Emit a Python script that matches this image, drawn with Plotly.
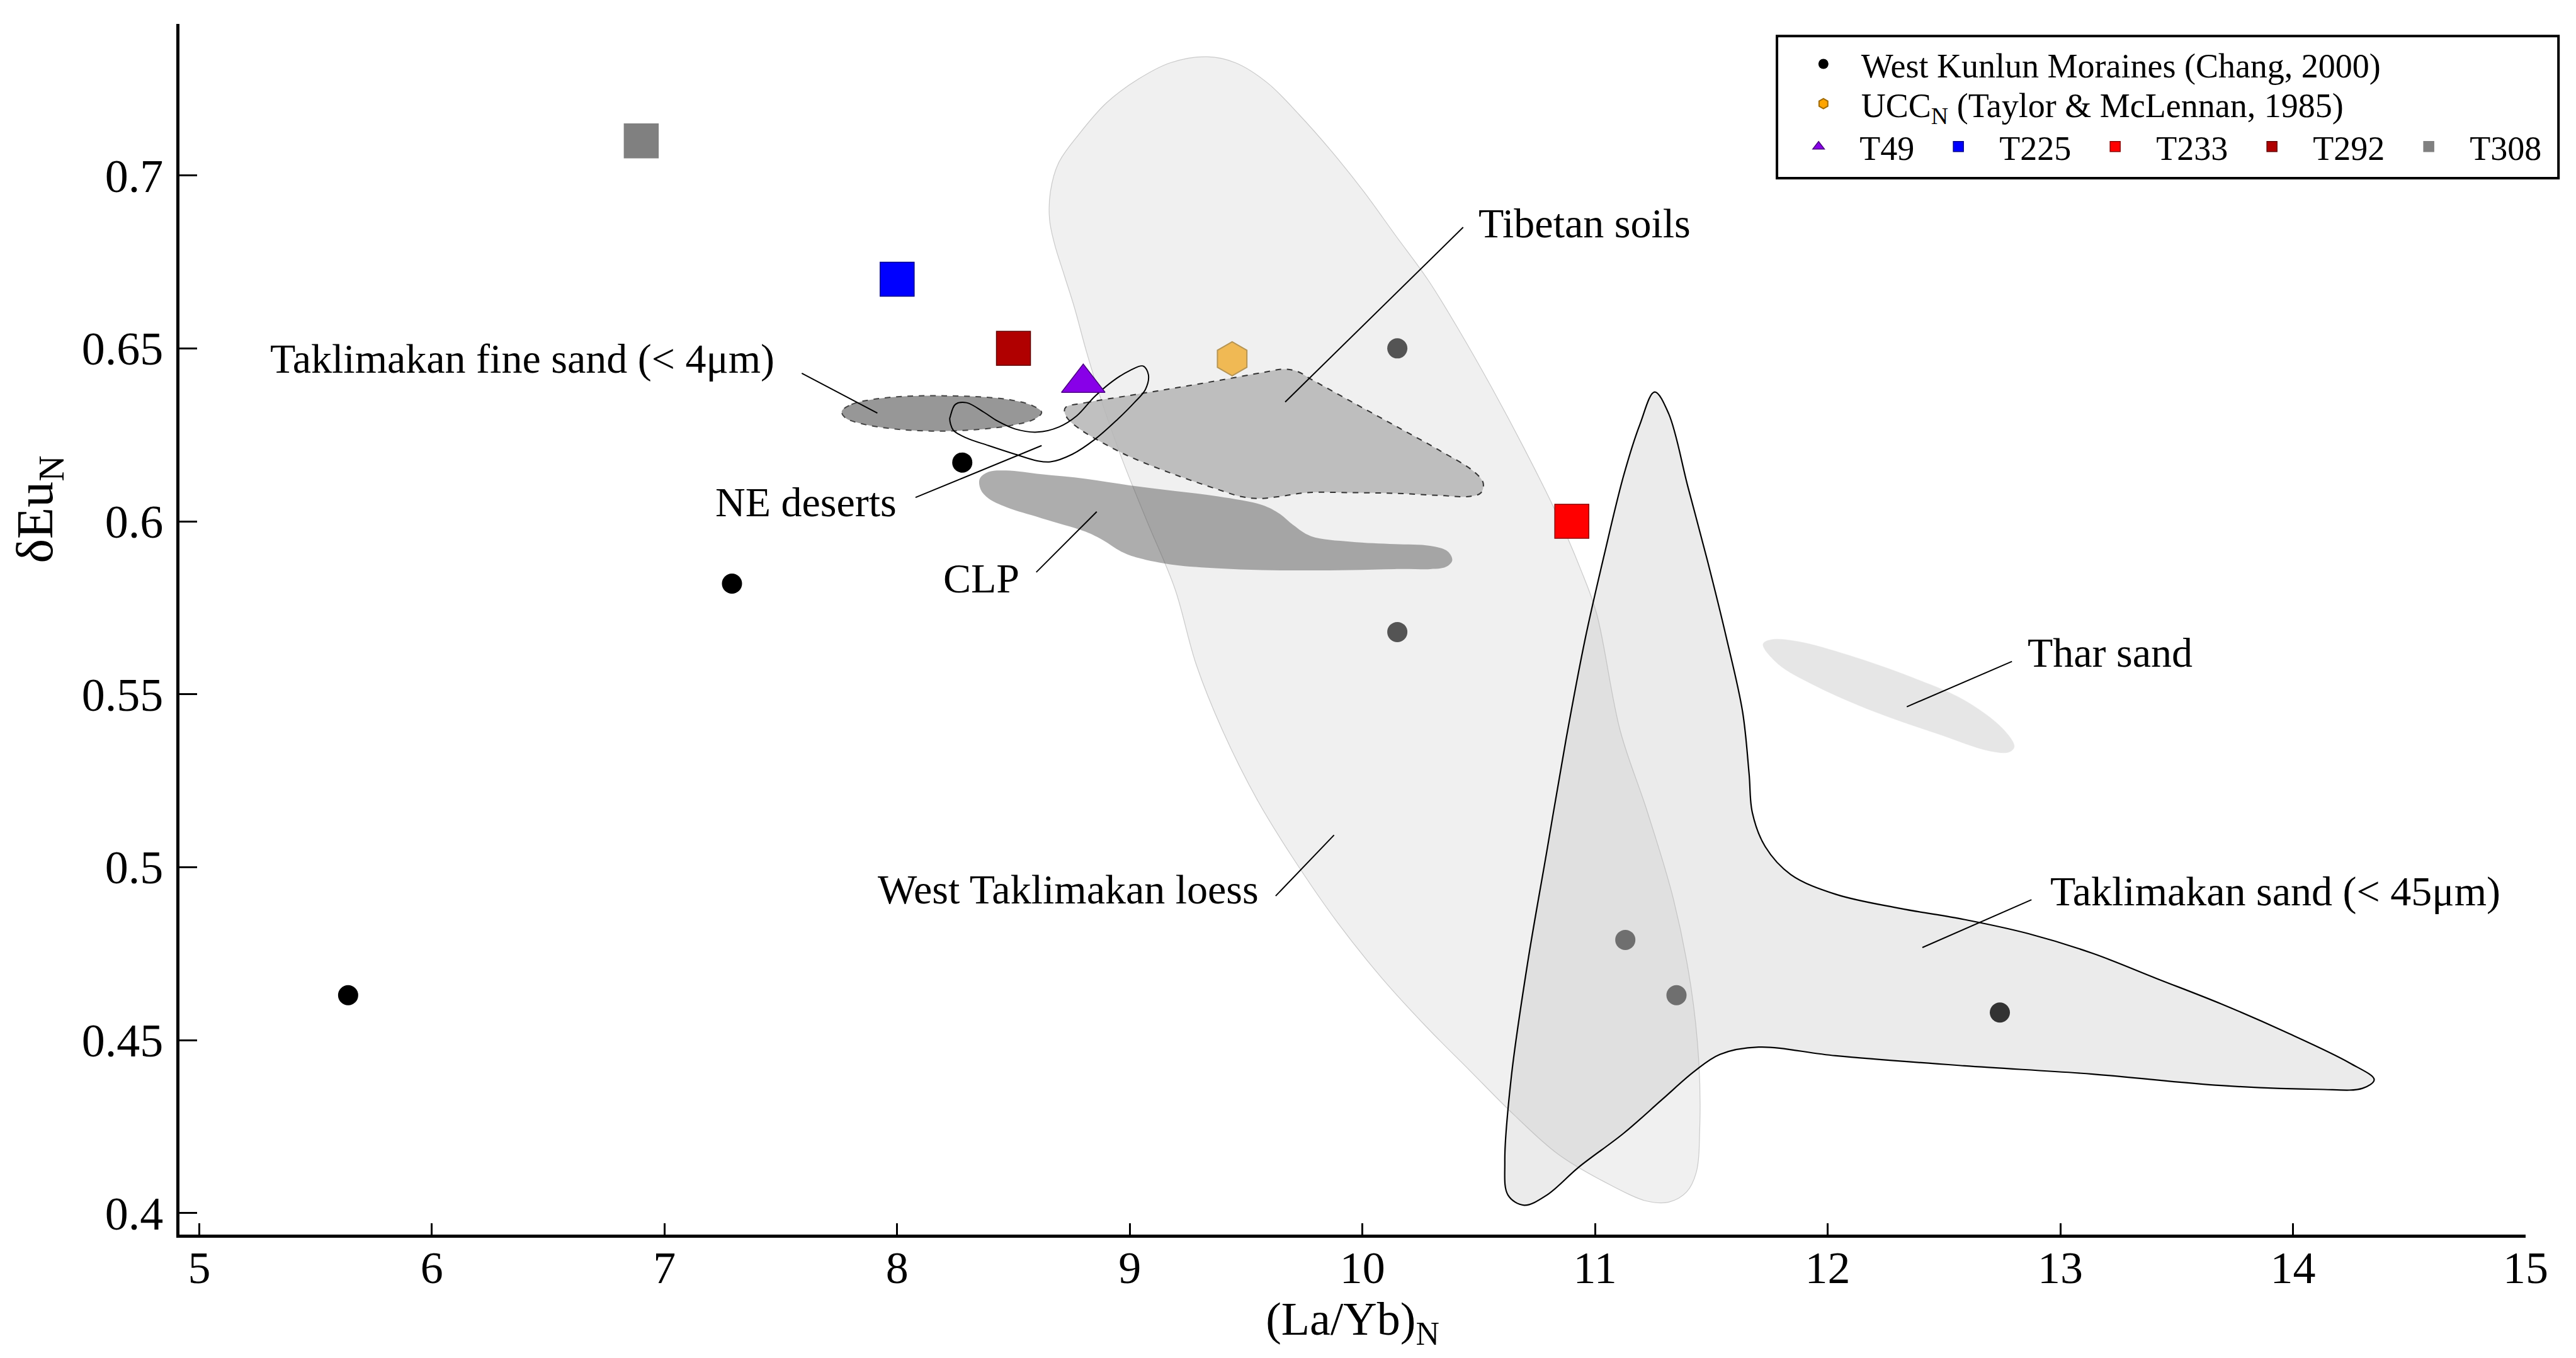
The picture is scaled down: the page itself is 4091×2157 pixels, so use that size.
import plotly.graph_objects as go

FONT = "Liberation Serif"

# ---------------- data ----------------
# West Kunlun Moraines (Chang, 2000)
wkm_x = [5.64, 7.29, 8.28, 10.15, 10.15, 11.13, 11.35, 12.74]
wkm_y = [0.463, 0.582, 0.617, 0.650, 0.568, 0.479, 0.463, 0.458]

# UCC_N (Taylor & McLennan, 1985)
ucc_x = [9.44]
ucc_y = [0.647]

# samples
sample_names = ["T49", "T225", "T233", "T292", "T308"]
sample_x = [8.80, 8.00, 10.90, 8.50, 6.90]
sample_y = [0.640, 0.670, 0.600, 0.650, 0.710]

# region outlines (data units)
loess_x = [9.332, 9.453, 9.591, 9.729, 9.867, 10.005, 10.143, 10.281, 10.419, 10.557,
           10.695, 10.833, 10.937, 11.006, 11.108, 11.222, 11.336, 11.412, 11.446, 11.450,
           11.435, 11.393, 11.317, 11.222, 11.070, 10.842, 10.652, 10.462, 10.273, 10.083,
           9.893, 9.703, 9.551, 9.399, 9.285, 9.194, 9.073, 8.969, 8.883, 8.814,
           8.762, 8.719, 8.676, 8.655, 8.659, 8.693, 8.779, 8.900, 9.038, 9.176, 9.332]
loess_y = [0.7343, 0.7326, 0.7268, 0.7175, 0.7070, 0.6954, 0.6826, 0.6699, 0.6548, 0.6385,
           0.6211, 0.6025, 0.5863, 0.5735, 0.5395, 0.5166, 0.4910, 0.4655, 0.4438, 0.4246,
           0.4118, 0.4061, 0.4032, 0.4035, 0.4080, 0.4170, 0.4284, 0.4412, 0.4540, 0.4680,
           0.4840, 0.5025, 0.5191, 0.5395, 0.5587, 0.5805, 0.6002, 0.6176, 0.6339, 0.6490,
           0.6618, 0.6710, 0.6803, 0.6873, 0.6954, 0.7035, 0.7117, 0.7210, 0.7279, 0.7326, 0.7343]

tsand_x = [11.256, 11.316, 11.399, 11.482, 11.565, 11.634, 11.662, 11.676, 11.731, 11.841,
           12.034, 12.311, 12.587, 12.863, 13.139, 13.415, 13.691, 13.967, 14.244, 14.349,
           14.299, 14.106, 13.691, 13.139, 12.587, 12.034, 11.703, 11.537, 11.427, 11.289,
           11.123, 10.930, 10.792, 10.695, 10.626, 10.612, 10.640, 10.709, 10.792, 10.875,
           10.958, 11.040, 11.123, 11.192, 11.256]
tsand_y = [0.6374, 0.6312, 0.6100, 0.5889, 0.5662, 0.5450, 0.5271, 0.5158, 0.5060, 0.4979,
           0.4922, 0.4881, 0.4849, 0.4808, 0.4751, 0.4678, 0.4605, 0.4524, 0.4434, 0.4386,
           0.4361, 0.4358, 0.4369, 0.4402, 0.4426, 0.4455, 0.4480, 0.4459, 0.4410, 0.4329,
           0.4231, 0.4133, 0.4052, 0.4023, 0.4052, 0.4150, 0.4394, 0.4719, 0.5044, 0.5369,
           0.5662, 0.5905, 0.6133, 0.6279, 0.6374]

thar_x = [11.722, 11.758, 11.869, 12.090, 12.366, 12.587, 12.752, 12.802, 12.780, 12.697,
          12.476, 12.200, 11.952, 11.786, 11.722]
thar_y = [0.5645, 0.5658, 0.5653, 0.5613, 0.5548, 0.5483, 0.5401, 0.5349, 0.5333, 0.5336,
          0.5385, 0.5450, 0.5523, 0.5588, 0.5645]

clp_x = [8.355, 8.393, 8.469, 8.621, 8.810, 9.000, 9.190, 9.380, 9.570, 9.646,
         9.703, 9.779, 9.950, 10.139, 10.291, 10.367, 10.386, 10.358, 10.291, 10.139,
         9.950, 9.760, 9.570, 9.380, 9.190, 9.038, 8.962, 8.886, 8.810, 8.621,
         8.469, 8.393, 8.359, 8.355]
clp_y = [0.6123, 0.6143, 0.6147, 0.6136, 0.6123, 0.6104, 0.6088, 0.6072, 0.6047, 0.6021,
         0.5989, 0.5957, 0.5941, 0.5934, 0.5929, 0.5913, 0.5887, 0.5868, 0.5862, 0.5862,
         0.5859, 0.5858, 0.5859, 0.5864, 0.5874, 0.5894, 0.5913, 0.5945, 0.5970, 0.6009,
         0.6041, 0.6066, 0.6092, 0.6123]

tibet_x = [8.725, 8.810, 9.000, 9.190, 9.380, 9.570, 9.665, 9.722, 9.779, 9.950,
           10.139, 10.329, 10.481, 10.519, 10.510, 10.462, 10.329, 10.139, 9.950, 9.760,
           9.646, 9.551, 9.475, 9.380, 9.190, 9.000, 8.886, 8.791, 8.734, 8.719, 8.725]
tibet_y = [0.6330, 0.6343, 0.6364, 0.6385, 0.6407, 0.6430, 0.6440, 0.6433, 0.6411, 0.6347,
           0.6277, 0.6206, 0.6143, 0.6111, 0.6083, 0.6072, 0.6075, 0.6081, 0.6083, 0.6083,
           0.6072, 0.6066, 0.6072, 0.6092, 0.6136, 0.6187, 0.6226, 0.6264, 0.6296, 0.6318, 0.6330]

fine_x = [7.762, 7.804, 7.899, 8.051, 8.203, 8.355, 8.488, 8.583, 8.621, 8.592,
          8.488, 8.317, 8.146, 7.975, 7.842, 7.776, 7.762]
fine_y = [0.6318, 0.6338, 0.6353, 0.6362, 0.6363, 0.6360, 0.6351, 0.6334, 0.6315, 0.6296,
          0.6277, 0.6264, 0.6261, 0.6268, 0.6283, 0.6300, 0.6318]

ne_x = [8.228, 8.250, 8.298, 8.374, 8.431, 8.507, 8.602, 8.696, 8.772, 8.848,
        8.924, 9.000, 9.057, 9.080, 9.067, 9.019, 8.943, 8.848, 8.753, 8.659,
        8.602, 8.507, 8.393, 8.298, 8.241, 8.226, 8.228]
ne_y = [0.6302, 0.6338, 0.6343, 0.6315, 0.6290, 0.6267, 0.6258, 0.6273, 0.6305, 0.6360,
        0.6404, 0.6436, 0.6449, 0.6424, 0.6381, 0.6343, 0.6292, 0.6236, 0.6194, 0.6172,
        0.6175, 0.6194, 0.6219, 0.6241, 0.6264, 0.6296, 0.6302]

# region labels: text, x, y, anchor
label_text = ["Taklimakan fine sand (< 4μm)", "NE deserts", "CLP", "Tibetan soils",
              "West Taklimakan loess", "Thar sand", "Taklimakan sand (< 45μm)"]
label_x = [7.478, 8.004, 8.53, 10.493, 9.56, 12.853, 12.951]
label_y = [0.647, 0.6055, 0.5836, 0.6862, 0.4936, 0.5621, 0.493]
label_anchor = ["right", "right", "right", "left", "right", "left", "left"]

# leader lines: x0, y0, x1, y1
leader_x0 = [7.59, 8.079, 8.598, 10.433, 9.627, 12.340, 12.407]
leader_y0 = [0.6428, 0.6069, 0.5853, 0.6850, 0.4917, 0.5464, 0.4768]
leader_x1 = [7.915, 8.621, 8.858, 9.668, 9.878, 12.792, 12.876]
leader_y1 = [0.6313, 0.6219, 0.6028, 0.6345, 0.5093, 0.5595, 0.4906]

x_ticks = [5, 6, 7, 8, 9, 10, 11, 12, 13, 14, 15]
y_ticks = [0.4, 0.45, 0.5, 0.55, 0.6, 0.65, 0.7]
y_ticktext = ["0.4", "0.45", "0.5", "0.55", "0.6", "0.65", "0.7"]

# ---------------- styles ----------------
sample_symbols = ["triangle-up", "square", "square", "square", "square"]
sample_colors = ["#8800e8", "#0000ff", "#ff0000", "#b00000", "#808080"]
sample_lines = ["#4a0080", "#00008a", "#8a0000", "#600000", "#808080"]
sample_sizes = [60, 54, 54, 54, 54]

LEG_FONT = dict(family=FONT, size=54, color="black")

fig = go.Figure()

# points that sit beneath the regions
fig.add_trace(go.Scatter(x=wkm_x, y=wkm_y, mode="markers", name="West Kunlun Moraines (Chang, 2000)",
                         marker=dict(symbol="circle", size=32, color="black"), legend="legend"))
fig.add_trace(go.Scatter(x=ucc_x, y=ucc_y, mode="markers",
                         name="UCC<sub>N</sub> (Taylor & McLennan, 1985)",
                         marker=dict(symbol="hexagon", size=54, color="#ffa500",
                                     line=dict(color="#a06a00", width=2)), legend="legend2"))


def region(xs, ys, fill, line_color, line_width, dash="solid"):
    fig.add_trace(go.Scatter(x=xs, y=ys, mode="lines", fill="toself", fillcolor=fill,
                             line=dict(color=line_color, width=line_width, shape="spline",
                                       smoothing=1.0, dash=dash),
                             showlegend=False, hoverinfo="skip"))


region(loess_x, loess_y, "rgba(217,217,217,0.39)", "rgba(190,190,190,0.8)", 1.2)
region(thar_x, thar_y, "rgba(230,230,230,1)", "rgba(230,230,230,1)", 0.5)
region(clp_x, clp_y, "rgba(81,81,81,0.47)", "rgba(0,0,0,0)", 0)
region(tibet_x, tibet_y, "rgba(181,181,181,0.85)", "#333333", 2, "dash")
region(fine_x, fine_y, "rgba(140,140,140,0.9)", "#444444", 2, "dash")
region(tsand_x, tsand_y, "rgba(182,182,182,0.28)", "black", 2.2)
fig.add_trace(go.Scatter(x=ne_x, y=ne_y, mode="lines",
                         line=dict(color="black", width=2, shape="spline", smoothing=1.0),
                         showlegend=False, hoverinfo="skip"))

for i, nm in enumerate(sample_names):
    fig.add_trace(go.Scatter(x=[sample_x[i]], y=[sample_y[i]], mode="markers", name=nm,
                             marker=dict(symbol=sample_symbols[i], size=sample_sizes[i],
                                         color=sample_colors[i],
                                         line=dict(color=sample_lines[i], width=1.5)),
                             legend="legend3"))

shapes = []
for i in range(len(leader_x0)):
    shapes.append(dict(type="line", xref="x", yref="y", x0=leader_x0[i], y0=leader_y0[i],
                       x1=leader_x1[i], y1=leader_y1[i], line=dict(color="black", width=2)))
# legend frame
shapes.append(dict(type="rect", xref="paper", yref="paper", x0=0.6809, x1=1.0140, y0=0.8726, y1=0.990,
                   line=dict(color="black", width=4), fillcolor="rgba(0,0,0,0)", layer="above"))

annotations = []
for i, t in enumerate(label_text):
    annotations.append(dict(x=label_x[i], y=label_y[i], xref="x", yref="y", text=t, showarrow=False,
                            xanchor=label_anchor[i], yanchor="middle",
                            font=dict(family=FONT, size=66, color="black")))
annotations.append(dict(x=-0.060, y=0.599, xref="paper", yref="paper", text="δEu<sub>N</sub>",
                        showarrow=False, textangle=-90, xanchor="center", yanchor="middle",
                        font=dict(family=FONT, size=82, color="black")))

fig.update_layout(
    width=4091, height=2157,
    margin=dict(l=277, r=88, t=30, b=204, pad=0),
    paper_bgcolor="white", plot_bgcolor="white",
    font=dict(family=FONT, color="black"),
    shapes=shapes, annotations=annotations,
    legend=dict(x=0.6846, y=0.9886, xanchor="left", yanchor="top", orientation="v",
                font=LEG_FONT, bgcolor="rgba(0,0,0,0)", itemwidth=110),
    legend2=dict(x=0.6846, y=0.9558, xanchor="left", yanchor="top", orientation="v",
                 font=LEG_FONT, bgcolor="rgba(0,0,0,0)", itemwidth=110),
    legend3=dict(x=0.6812, y=0.9204, xanchor="left", yanchor="top", orientation="h",
                 font=LEG_FONT, bgcolor="rgba(0,0,0,0)", itemwidth=120),
    xaxis=dict(range=[4.915, 15.0], tickvals=x_ticks, ticks="inside", ticklen=18, tickwidth=3,
               tickcolor="black", showline=True, linewidth=5, linecolor="black", mirror=False,
               showgrid=False, zeroline=False, tickfont=dict(family=FONT, size=72),
               ticklabelstandoff=-14,
               title=dict(text="(La/Yb)<sub>N</sub>", font=dict(family=FONT, size=74), standoff=13)),
    yaxis=dict(range=[0.3938, 0.7438], tickvals=y_ticks, ticktext=y_ticktext, ticks="inside",
               ticklen=28, tickwidth=3, tickcolor="black", showline=True, linewidth=5,
               linecolor="black", mirror=False, showgrid=False, zeroline=False,
               tickfont=dict(family=FONT, size=74), ticklabelstandoff=6),
)

fig.write_html("out.html")
